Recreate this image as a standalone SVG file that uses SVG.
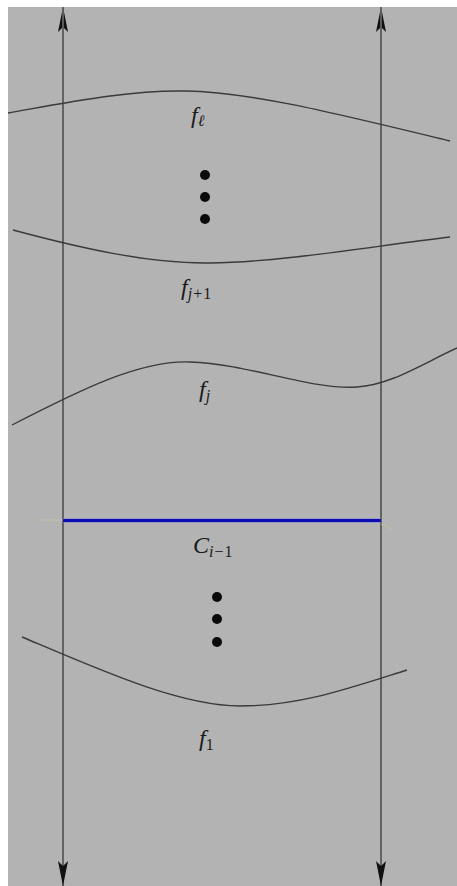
<svg xmlns="http://www.w3.org/2000/svg" width="457" height="886" viewBox="0 0 457 886">
<style>
.curve{fill:none;stroke:#3a3a3a;stroke-width:1.4}
.axis{fill:none;stroke:#636363;stroke-width:1.8}
.lbl{font-family:"Liberation Serif","DejaVu Serif",serif;font-style:italic;font-size:24px;fill:#1a1a1a}
.sub{font-size:16px;letter-spacing:1px}
.up{font-style:normal}
.dot{fill:#0a0a0a}
</style>
<defs>
<marker id="arr" viewBox="-26 -6 27 12" refX="0" refY="0" markerWidth="27" markerHeight="12" markerUnits="userSpaceOnUse" orient="auto">
<path d="M0,0 L-25,-5 L-20,0 L-25,5 Z" fill="#111"/>
</marker>
</defs>
<rect x="8" y="7" width="449" height="879" fill="#b3b3b3"/>
<g id="connectors">
<line class="axis" x1="63" y1="886" x2="63" y2="7" marker-end="url(#arr)"/>
<line class="axis" x1="63" y1="7" x2="63" y2="886" marker-end="url(#arr)"/>
<line class="axis" x1="381" y1="886" x2="381" y2="7" marker-end="url(#arr)"/>
<line class="axis" x1="381" y1="7" x2="381" y2="886" marker-end="url(#arr)"/>
</g>
<g id="f_l">
<path class="curve" d="M8,113 C70,102 130,90 185,91 C250,92 330,112 450,141"/>
<text class="lbl" x="191" y="123">f<tspan class="sub" dy="3">ℓ</tspan></text>
</g>
<g id="dots_top">
<circle class="dot" cx="205" cy="175" r="5"/>
<circle class="dot" cx="205" cy="197" r="5"/>
<circle class="dot" cx="205" cy="219" r="5"/>
</g>
<g id="f_j1">
<path class="curve" d="M13,230 C80,248 150,264 210,263 C280,262 360,248 450,237"/>
<text class="lbl" x="181" y="295">f<tspan class="sub" dy="4">j<tspan class="up">+1</tspan></tspan></text>
</g>
<g id="f_j">
<path class="curve" d="M12,425 C80,390 140,360 190,362 C250,364 310,390 357,387 C390,385 420,365 457,348"/>
<text class="lbl" x="199" y="397">f<tspan class="sub" dy="4">j</tspan></text>
</g>
<g id="C_i1">
<line x1="40" y1="520" x2="63" y2="520" stroke="#c8c69c" stroke-width="1" opacity="0.7"/>
<line x1="381" y1="524" x2="392" y2="529" stroke="#c8c69c" stroke-width="1" opacity="0.7"/>
<line x1="63" y1="520.5" x2="381" y2="520.5" stroke="#8a8ad8" stroke-width="5" opacity="0.6"/>
<line x1="63" y1="520.5" x2="381" y2="520.5" stroke="#0c0cb0" stroke-width="3.2"/>
<text class="lbl" x="193" y="553">C<tspan class="sub" dy="4">i<tspan class="up">−1</tspan></tspan></text>
</g>
<g id="dots_bottom">
<circle class="dot" cx="217" cy="597" r="5"/>
<circle class="dot" cx="217" cy="619" r="5"/>
<circle class="dot" cx="217" cy="642" r="5"/>
</g>
<g id="f_1">
<path class="curve" d="M22,637 C100,670 180,706 240,706 C300,706 350,688 407,670"/>
<text class="lbl" x="199" y="746">f<tspan class="sub up" dy="4">1</tspan></text>
</g>
</svg>
